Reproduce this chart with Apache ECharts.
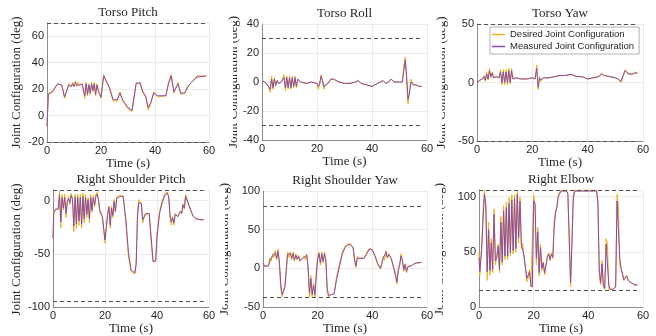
<!DOCTYPE html>
<html>
<head>
<meta charset="utf-8">
<script src="https://cdn.jsdelivr.net/npm/echarts@6/dist/echarts.min.js"></script>
<style>
  html, body { margin: 0; padding: 0; background: #fff; }
  #chart { width: 656px; height: 336px; }
</style>
</head>
<body>
<div id="chart"></div>
<script>
// time samples (s) and joint angles (deg)
const pitchT = [0, 0.5, 2, 3, 4, 5.5, 6.5, 8, 9, 9.5, 10, 10.5, 11, 11.5, 12, 13, 14, 14.5, 15, 15.5, 16, 16.5, 17, 17.5, 18, 18.5, 19, 20, 21, 22, 23, 24.5, 26, 27, 28, 29, 30, 31.5, 32.2, 33, 34.5, 35.5, 36.5, 37.5, 38.5, 39.5, 41, 44, 45, 46, 47, 48.5, 49.5, 51, 52, 53, 54, 55.5, 59]
const pitchDes = [-8, 17, 18, 22, 24, 23, 13, 24, 22, 25, 22, 26, 22, 25, 23, 24, 13, 25, 15, 24, 16, 25, 18, 25, 15, 24, 18, 13, 31, 25, 21, 11, 11, 18, 11, 8, 5, 3, 2, 25, 24, 17, 14, 4, 10, 18, 14, 15, 25, 31, 17, 25, 16, 17, 22, 24, 26, 30, 30]
const pitchMea = [-8, 16, 18, 21, 24, 23, 14, 23, 22, 24, 22, 25, 23, 24, 23, 24, 15, 24, 16, 23, 17, 24, 19, 24, 16, 23, 19, 14, 30, 26, 22, 12, 12, 17, 12, 9, 6, 4, 4, 24, 25, 18, 15, 6, 10, 17, 15, 15, 24, 30, 18, 24, 17, 17, 21, 24, 26, 29, 30]

const rollT = [0, 1, 2, 3, 3.5, 4, 4.5, 5, 5.5, 6, 7, 8, 8.5, 9, 9.5, 10, 10.5, 11, 11.5, 12, 12.5, 13, 14, 16, 18, 20, 20.5, 21, 21.5, 22, 22.5, 23, 24, 25, 26, 28, 30, 32, 34, 35, 36, 38, 40, 42, 43, 44, 45, 46, 47, 48, 50, 51, 51.6, 52.1, 52.6, 53.1, 53.6, 54.2, 55, 56, 57, 58]
const rollDes = [1, 0, -2, -7, 4, -5, 3, -3, 1, -1, 0, 5, -6, 4, -5, 4, -5, 4, -4, 4, -4, 2, 0, -1, 0, -1, -5, 0, 5, 0, -5, -2, -1, 2, 2, 0, -1, -1, 0, 1, -1, -2, -3, -1, 0, 1, -1, 0, 2, 0, 0, 0, 12, 17, 0, -15, -6, 2, -2, -2, -3, -3]
const rollMea = [1, 0, -2, -5, 2, -4, 2, -2, 1, -1, 0, 3, -4, 3, -4, 3, -4, 3, -3, 3, -3, 2, 0, -1, 0, -1, -3, -1, 4, 1, -3, -2, -1, 2, 2, 0, -1, -1, 0, 1, -1, -2, -3, -1, 0, 1, -1, 0, 2, 0, 0, 0, 8, 15, 4, -12, -8, 0, -2, -2, -3, -3]

const yawT = [0, 1, 2, 2.5, 3, 3.5, 4, 4.5, 5, 5.5, 6, 7, 8, 8.5, 9, 9.5, 10, 10.5, 11, 11.5, 12, 12.5, 13, 14, 16, 18, 20, 21, 21.6, 22.1, 22.6, 23, 24, 26, 28, 30, 32, 34, 35, 36, 38, 40, 42, 44, 45, 46, 48, 50, 51, 52, 52.5, 53.5, 54.5, 56, 57, 58]
const yawDes = [-1, 2, 3, 6, 1, 9, 2, 12, 4, 9, 4, 5, 4, 11, -2, 11, -2, 11, -2, 12, -1, 12, 3, 4, 3, 3, 4, 3, 15, -6, 5, 1, 4, 4, 5, 6, 6, 7, 6, 5, 5, 3, 4, 5, 8, 6, 5, 4, 3, 0, 3, 11, 7, 7, 9, 8]
const yawMea = [0, 2, 3, 5, 2, 7, 3, 10, 5, 8, 4, 5, 4, 9, 0, 9, 0, 9, 0, 10, 0, 10, 3, 4, 3, 3, 4, 3, 12, -4, 4, 2, 4, 4, 5, 6, 6, 7, 6, 5, 5, 3, 4, 5, 7, 6, 5, 4, 3, 1, 2, 10, 8, 7, 8, 8]

const shPitchT = [0, 0.3, 1, 2, 2.5, 3, 3.5, 4, 4.5, 5, 5.5, 6, 6.5, 7, 7.5, 8, 8.5, 9, 9.5, 10, 10.5, 11, 11.5, 12, 12.5, 13, 13.5, 14, 14.5, 15, 15.5, 16, 16.5, 17, 17.5, 18, 19, 20, 21, 21.5, 22, 22.5, 23, 23.5, 24, 24.5, 26, 27, 28, 29, 30, 31.5, 32, 32.5, 33, 34, 34.5, 35.5, 37, 38, 38.5, 39.5, 40, 41, 42, 43, 44, 44.5, 45, 45.5, 46, 46.5, 47, 48, 49, 49.5, 50, 50.5, 51, 52, 53, 54, 55, 57, 58]
const shPitchDes = [-35, -10, -8, -8, 9, -26, 6, -9, 6, -16, -1, 4, -4, 7, 2, -29, 6, -26, 6, -23, 6, -26, 7, -21, 6, -16, 3, -21, 6, -11, 5, -6, 6, 8, 0, -11, -16, -40, -11, -5, -26, -5, -16, 1, -11, 4, 5, 4, -20, -52, -67, -69, -56, -10, 1, -3, -21, -12, -12, -46, -58, -56, -30, -10, 0, 7, 8, 3, -16, -23, -15, -23, -12, -15, -10, -12, -3, -8, 6, -3, -10, -15, -17, -18, -18]
const shPitchMea = [-35, -12, -8, -8, 5, -20, 3, -7, 3, -12, -1, 2, -2, 5, 1, -24, 3, -22, 3, -19, 3, -22, 4, -17, 3, -13, 1, -17, 3, -9, 3, -4, 4, 6, 1, -9, -15, -37, -14, -6, -23, -7, -14, -1, -10, 2, 4, 4, -17, -48, -65, -68, -60, -15, -2, -3, -18, -13, -12, -42, -57, -57, -34, -12, -2, 5, 7, 4, -13, -20, -16, -21, -13, -15, -10, -12, -4, -7, 4, -2, -9, -15, -17, -18, -18]

const shYawT = [0, 0.5, 1, 2, 2.5, 3, 3.5, 4, 4.5, 5, 5.5, 6, 6.5, 7, 7.5, 8, 8.5, 9, 9.5, 10, 10.5, 11, 11.5, 12, 12.5, 13, 13.5, 14, 15, 15.5, 16, 16.5, 17, 17.5, 18, 18.5, 19, 19.5, 20, 20.5, 21, 21.5, 22, 22.5, 23, 23.5, 24, 25, 26, 26.5, 27, 28, 29, 30, 31, 32, 33, 33.5, 34, 34.5, 35, 37, 38, 39, 40, 41, 42, 43, 43.5, 44, 44.5, 45, 45.5, 46, 47, 47.5, 48, 48.5, 49, 49.5, 50, 50.5, 51, 51.5, 52, 52.5, 53, 54, 55, 56, 57, 58]
const shYawDes = [9, 2, 4, 3, 13, 9, 19, 14, 23, 11, 25, 4, -27, -37, -37, -21, 0, 21, 14, 21, 11, 21, 9, 19, 11, 17, 9, 7, 16, 11, 19, -2, -37, -9, -37, -19, -37, -4, 16, 21, 4, 21, 7, 21, 9, -32, -37, -34, -33, -31, -9, 6, 21, 29, 31, 32, 25, 9, 1, 16, 13, 13, 21, 26, 24, 15, 4, -1, -3, 16, 11, 23, 13, 19, 11, 4, 6, -11, -20, 1, 5, 19, 9, -4, 6, -6, 3, 3, 5, 7, 7, 8]
const shYawMea = [7, 3, 4, 3, 10, 10, 16, 15, 20, 13, 22, 8, -20, -34, -36, -25, -4, 18, 16, 19, 13, 19, 11, 17, 12, 16, 10, 8, 14, 12, 17, 2, -32, -13, -34, -22, -34, -8, 12, 19, 7, 19, 9, 19, 11, -26, -35, -34, -33, -31, -13, 3, 18, 27, 30, 31, 27, 12, 3, 13, 13, 13, 19, 25, 24, 16, 6, 0, -2, 13, 12, 21, 14, 18, 12, 5, 6, -8, -18, -3, 4, 16, 10, -2, 5, -4, 2, 3, 5, 7, 7, 8]

const elbowT = [0, 0.3, 1, 1.5, 2, 2.5, 3, 3.5, 4, 4.5, 5, 5.5, 6, 6.5, 7, 7.5, 8, 8.5, 9, 9.5, 10, 10.5, 11, 11.5, 12, 12.5, 13, 13.5, 14, 14.5, 15, 15.5, 16, 16.5, 17, 17.5, 18, 18.5, 19, 19.5, 20, 20.5, 21, 21.5, 22, 22.5, 23, 23.5, 24, 25, 25.5, 26, 26.5, 27, 27.5, 28, 28.5, 29, 30, 32, 32.5, 33, 33.5, 34, 34.5, 35, 43, 43.5, 44, 44.5, 45, 45.5, 46, 46.5, 47, 47.5, 48, 49, 50, 50.5, 51, 51.5, 52, 52.5, 53, 54, 54.5, 55, 57, 58]
const elbowDes = [50, 28, 58, 88, 106, 88, 24, 77, 29, 62, 31, 89, 38, 46, 57, 31, 82, 38, 92, 43, 95, 43, 99, 46, 102, 48, 102, 50, 106, 58, 100, 53, 58, 44, 34, 23, 26, 34, 18, 17, 102, 91, 38, 72, 28, 57, 33, 41, 29, 46, 49, 42, 49, 44, 78, 87, 92, 102, 106, 106, 102, 58, 18, 62, 102, 106, 106, 92, 28, 20, 42, 18, 16, 62, 57, 16, 15, 16, 19, 102, 92, 38, 34, 29, 24, 29, 24, 23, 20, 20]
const elbowMea = [45, 32, 52, 80, 102, 93, 32, 70, 33, 58, 34, 84, 42, 45, 55, 34, 77, 41, 87, 46, 90, 46, 94, 49, 97, 51, 98, 53, 102, 63, 96, 57, 57, 46, 36, 26, 26, 32, 20, 18, 96, 94, 44, 68, 31, 54, 35, 40, 31, 45, 48, 43, 48, 45, 72, 85, 90, 100, 105, 105, 103, 65, 22, 56, 98, 105, 105, 96, 34, 22, 39, 20, 17, 57, 58, 20, 16, 16, 18, 96, 95, 44, 35, 30, 25, 28, 25, 23, 20, 20]

// joint limits (dashed) and y axis [min, max, step]
const pitchLim = [-20, 70], pitchY = [-20, 70, 20]
const rollLim = [-30, 30], rollY = [-40, 40, 20]
const yawLim = [-50, 50], yawY = [-50, 50, 50]
const shPitchLim = [-95, 10], shPitchY = [-100, 10, 50]
const shYawLim = [-38, 80], shYawY = [-50, 100, 50]
const elbowLim = [15, 106], elbowY = [0, 106, 50]
const timeAxis = [0, 60, 20]

const names = ['Desired Joint Configuration', 'Measured Joint Configuration']
const yLabel = 'Joint Configuration (deg)'

// labelX: centre of the rotated y title; cut: the part hidden by the panel on the left
const plots = [
  { title: 'Torso Pitch', t: pitchT, des: pitchDes, mea: pitchMea, lim: pitchLim, y: pitchY,
    box: { left: 47, top: 23, width: 162, height: 119 }, labelX: 17, cut: null },
  { title: 'Torso Roll', t: rollT, des: rollDes, mea: rollMea, lim: rollLim, y: rollY,
    box: { left: 262, top: 24, width: 165, height: 116 }, labelX: 234, cut: [214, 233] },
  { title: 'Torso Yaw', t: yawT, des: yawDes, mea: yawMea, lim: yawLim, y: yawY,
    box: { left: 477, top: 24, width: 166, height: 117 }, labelX: 442, cut: [430, 442] },
  { title: 'Right Shoulder Pitch', t: shPitchT, des: shPitchDes, mea: shPitchMea, lim: shPitchLim, y: shPitchY,
    box: { left: 53, top: 190, width: 156, height: 119 }, labelX: 17, cut: null },
  { title: 'Right Shoulder Yaw', t: shYawT, des: shYawDes, mea: shYawMea, lim: shYawLim, y: shYawY,
    box: { left: 263, top: 191, width: 164, height: 116 }, labelX: 225, cut: [214, 225] },
  { title: 'Right Elbow', t: elbowT, des: elbowDes, mea: elbowMea, lim: elbowLim, y: elbowY,
    box: { left: 479, top: 190, width: 164, height: 118 }, labelX: 440, cut: [430, 442] },
]

const serif = 'Liberation Serif, Times New Roman, serif'
const sans = 'Liberation Sans, Arial, sans-serif'
const tickColor = '#262626'
const gridColor = '#ebebeb'
const axisColor = '#8c8c8c'

const grids = [], xAxes = [], yAxes = [], series = [], graphics = []

plots.forEach((p, i) => {
  grids.push(Object.assign({ containLabel: false }, p.box))
  xAxes.push({
    type: 'value', gridIndex: i, min: timeAxis[0], max: timeAxis[1], interval: timeAxis[2],
    name: 'Time (s)', nameLocation: 'middle', nameGap: 15,
    nameTextStyle: { fontFamily: serif, fontSize: 13, color: tickColor },
    axisLine: { show: true, onZero: false, lineStyle: { color: axisColor, width: 1 } },
    axisTick: { show: false },
    axisLabel: { color: tickColor, fontFamily: sans, fontSize: 11, margin: 3 },
    splitLine: { show: true, lineStyle: { color: gridColor, width: 1 } },
  })
  const hideMax = (p.y[1] - p.y[0]) % p.y[2] !== 0
  yAxes.push({
    type: 'value', gridIndex: i, min: p.y[0], max: p.y[1], interval: p.y[2],
    axisLine: { show: true, onZero: false, lineStyle: { color: axisColor, width: 1 } },
    axisTick: { show: false },
    axisLabel: { color: tickColor, fontFamily: sans, fontSize: 11, margin: 3, showMaxLabel: !hideMax },
    splitLine: { show: true, lineStyle: { color: gridColor, width: 1 } },
  })
  const tEnd = p.t[p.t.length - 1]
  series.push({
    name: names[0], type: 'line', xAxisIndex: i, yAxisIndex: i,
    data: p.t.map((t, k) => [t, p.des[k]]),
    symbol: 'none', showSymbol: false,
    lineStyle: { color: '#EDB120', width: 1 }, itemStyle: { color: '#EDB120' },
    markLine: {
      silent: true, symbol: ['none', 'none'], label: { show: false },
      lineStyle: { color: '#505050', type: [4, 3], width: 1 },
      data: p.lim.map(v => [{ coord: [0, v] }, { coord: [tEnd, v] }]),
    },
  })
  series.push({
    name: names[1], type: 'line', xAxisIndex: i, yAxisIndex: i,
    data: p.t.map((t, k) => [t, p.mea[k]]),
    symbol: 'none', showSymbol: false,
    lineStyle: { color: '#8E4AA0', width: 1 }, itemStyle: { color: '#8E4AA0' },
  })
  graphics.push({
    type: 'text', z: 10, x: p.box.left + p.box.width / 2, y: p.box.top - 10,
    style: { text: p.title, align: 'center', verticalAlign: 'middle', font: '13px ' + serif, fill: tickColor },
  })
  graphics.push({
    type: 'text', z: 10, x: p.labelX, y: p.box.top + p.box.height / 2, rotation: Math.PI / 2,
    style: { text: yLabel, align: 'center', verticalAlign: 'middle', font: '13px ' + serif, fill: tickColor },
  })
  if (p.cut) {
    graphics.push({
      type: 'rect', z: 20,
      shape: { x: p.cut[0], y: p.box.top - 4, width: p.cut[1] - p.cut[0], height: p.box.height + 4 },
      style: { fill: '#fff' },
    })
  }
})

const chart = echarts.init(document.getElementById('chart'), null, { renderer: 'canvas' })
chart.setOption({
  animation: false,
  backgroundColor: '#fff',
  grid: grids,
  xAxis: xAxes,
  yAxis: yAxes,
  series: series,
  graphic: { elements: graphics },
  legend: {
    data: names, orient: 'vertical', left: 490, top: 27,
    icon: 'rect', itemWidth: 13, itemHeight: 1.5, itemGap: 1,
    padding: [2, 5, 2, 2],
    backgroundColor: '#fff', borderColor: '#a0a0a0', borderWidth: 0.8,
    textStyle: { fontFamily: sans, fontSize: 9.5, color: tickColor, lineHeight: 11 },
  },
})
</script>
</body>
</html>
